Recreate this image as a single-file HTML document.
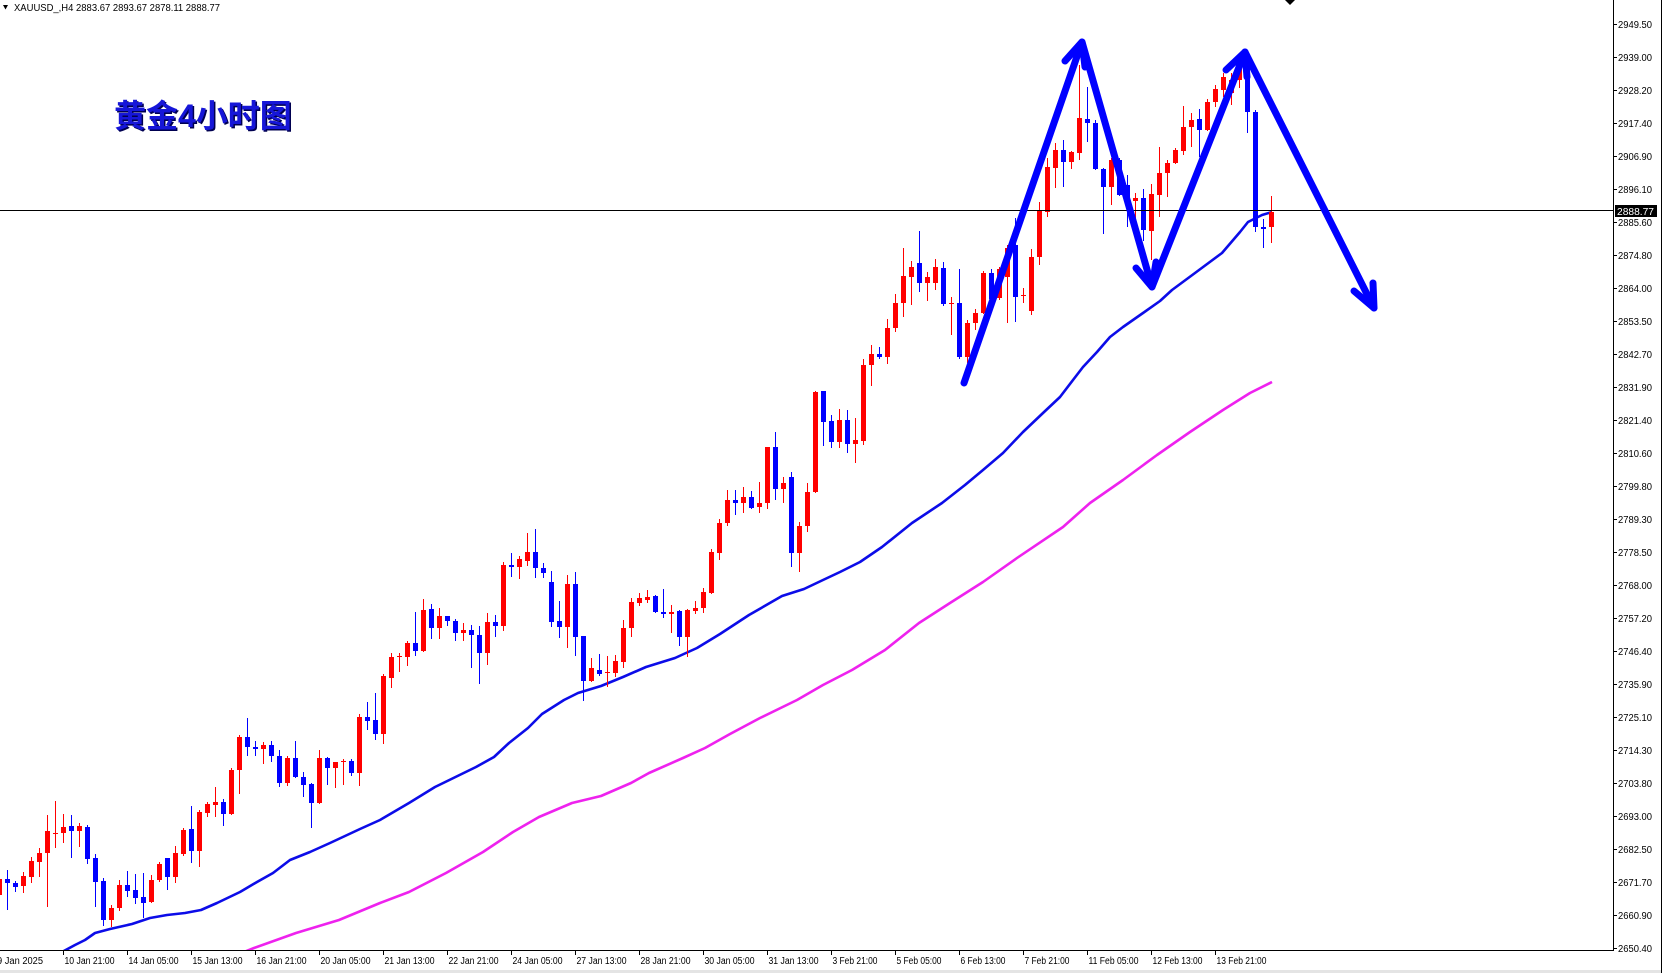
<!DOCTYPE html>
<html><head><meta charset="utf-8">
<style>
html,body{margin:0;padding:0;background:#fff;}
#wrap{position:relative;width:1662px;height:973px;overflow:hidden;background:#fff;}
svg text{font-family:"Liberation Sans","DejaVu Sans",sans-serif;}
</style></head>
<body><div id="wrap">
<svg id="chart" width="1662" height="973" viewBox="0 0 1662 973" style="position:absolute;left:0;top:0">
<defs><clipPath id="cl"><rect x="0" y="0" width="1613" height="950"/></clipPath></defs>
<g clip-path="url(#cl)">
<polyline fill="none" stroke="#ee22ee" stroke-width="2.6" stroke-linejoin="round" points="244,952 254,948 296,933 339,920 380,903 409,892 446,873 483,852 513,832 539,817 572,803 601,796 631,783 649,773 683,758 705,748 730,734 760,718 797,700 823,685 852,670 885,650 919,623 950,603 983,582 1017,558 1063,527 1090,503 1123,480 1157,455 1190,432 1223,410 1250,393 1272,382"/>
<polyline fill="none" stroke="#0c0ce8" stroke-width="2.6" stroke-linejoin="round" points="62,952 75,945 85,940 95,933 110,929 132,924 150,918 167,915 185,913 201,910 217,903 240,892 257,882 273,873 290,860 310,852 330,843 360,829 380,820 409,803 435,787 476,767 494,757 509,743 528,728 542,714 564,700 578,693 601,686 623,677 646,667 675,658 697,648 720,634 749,615 782,596 804,589 823,580 840,572 860,562 882,547 912,523 942,503 965,485 983,470 1003,453 1023,432 1043,413 1060,397 1073,380 1083,367 1097,352 1110,337 1123,327 1143,313 1160,301 1172,290 1195,273 1222,253 1240,232 1248,222 1262,215 1272,212"/>
<path id="redp" fill="#ff0000" shape-rendering="crispEdges" d=""/>
<path id="bluep" fill="#0000ff" shape-rendering="crispEdges" d=""/>
<rect x="0" y="210" width="1613" height="1" fill="#000"/>
<g fill="none" stroke="#0000ff" stroke-width="7" stroke-linecap="round" stroke-linejoin="round">
<polyline points="964,383 1082,42 1152,287 1245,52 1374,308"/>
<polyline points="1065,61 1082,42 1085,67"/>
<polyline points="1136,268 1152,287 1156,262"/>
<polyline points="1226,70 1245,52 1247,77"/>
<polyline points="1354,291 1374,308 1373,283"/>
</g>
</g>
<!-- axes -->
<rect x="1613" y="0" width="1" height="951" fill="#000"/>
<rect x="0" y="950" width="1614" height="1" fill="#000"/>
<rect x="1661" y="0" width="1" height="973" fill="#000"/>
<rect x="0" y="970" width="1661" height="3" fill="#e4e4e4"/>
<g id="pticks" fill="#000"></g>
<g id="plabels" font-size="10" fill="#000"></g>
<rect x="1615" y="205" width="42" height="12" fill="#000"/>
<text x="1617" y="215" font-size="10" fill="#fff" textLength="37" lengthAdjust="spacingAndGlyphs">2888.77</text>
<g id="tticks" fill="#000"></g>
<g id="tlabels" font-size="10" fill="#000"></g>
<!-- header -->
<polygon points="3,5 8,5 5.5,9.5" fill="#000"/>
<text x="14" y="11" font-size="10" fill="#000" textLength="206" lengthAdjust="spacingAndGlyphs">XAUUSD_,H4  2883.67 2893.67 2878.11 2888.77</text>
<polygon points="1285,0 1295,0 1290,5" fill="#000"/>
<!-- title -->
<text x="115.5" y="128.5" font-size="32" font-weight="bold" fill="#000050" style="font-family:'Liberation Sans','Noto Sans CJK SC','WenQuanYi Zen Hei',sans-serif">黄金4小时图</text>
<text x="114" y="127" font-size="32" font-weight="bold" fill="#1616d8" style="font-family:'Liberation Sans','Noto Sans CJK SC','WenQuanYi Zen Hei',sans-serif">黄金4小时图</text>
</svg>
</div>
<script>
(function(){
var D="r,895,879,878,896;b,879,883,870,910;b,883,887,881,892;r,886,876,872,893;r,877,861,857,883;r,862,853,848,877;r,853,831,815,907;r,834,833,801,848;r,833,827,814,843;b,826,831,815,858;r,831,826,823,847;b,827,859,825,864;b,858,882,854,907;b,881,920,878,926;r,920,908,905,927;r,908,885,880,911;b,885,891,871,897;b,890,898,874,904;b,897,903,873,918;r,902,880,875,903;r,880,864,862,882;b,858,877,858,890;r,877,853,846,883;r,854,830,828,856;b,829,851,806,863;r,851,812,810,867;r,813,804,802,817;r,805,802,787,817;b,802,814,799,826;r,814,770,768,815;r,770,737,735,794;b,737,747,718,756;b,747,749,741,756;r,749,745,742,764;b,745,756,741,762;b,756,783,750,787;r,783,758,756,786;b,758,777,741,778;b,777,785,772,797;b,784,803,783,828;r,803,758,750,804;b,758,768,757,785;r,768,762,762,788;r,762,761,759,785;b,761,773,759,776;r,773,717,714,786;b,717,721,702,730;b,720,734,693,740;r,734,676,674,744;r,678,657,653,688;r,657,656,653,672;r,657,643,641,666;b,643,651,612,656;r,651,610,599,652;b,609,628,604,639;r,628,616,608,639;b,616,621,616,626;b,621,633,619,641;r,633,630,623,641;b,630,635,625,668;b,635,653,626,684;r,653,622,613,665;b,622,626,615,637;r,626,565,562,631;b,565,567,553,577;r,567,559,556,579;r,561,552,533,566;b,552,568,529,578;b,568,573,563,578;b,582,622,571,627;b,621,627,601,638;r,627,584,575,648;b,584,637,572,656;b,636,681,636,701;r,681,668,658,682;b,670,674,654,676;r,673,672,656,687;r,673,661,655,677;r,662,628,620,668;r,628,602,598,637;r,603,598,593,606;r,600,597,590,603;b,596,612,595,613;b,612,614,589,618;r,614,612,605,633;b,611,637,610,646;r,637,610,609,657;r,611,608,601,614;r,608,592,588,613;r,593,552,549,594;r,553,523,519,560;r,523,500,490,526;b,500,503,490,515;r,503,497,487,513;b,497,508,491,509;r,507,503,482,513;r,503,447,447,509;b,447,489,432,500;r,489,483,477,503;b,477,553,472,567;r,553,526,522,572;r,526,492,483,532;r,492,392,391,493;b,391,422,391,446;b,421,442,415,448;r,442,420,409,448;b,420,444,410,453;r,444,440,418,463;r,441,365,359,445;r,365,354,345,386;b,354,357,347,359;r,357,328,319,364;r,328,303,294,332;r,303,276,248,317;r,277,267,261,305;b,263,283,231,292;r,283,277,272,301;r,283,267,259,290;b,268,304,262,306;r,304,303,297,335;b,303,357,269,359;r,357,323,320,363;r,323,313,309,330;r,313,273,271,314;b,273,299,269,307;r,298,269,267,300;r,277,248,245,323;b,245,297,218,322;r,296,295,288,303;r,311,257,249,315;r,257,210,202,265;r,212,167,158,217;r,168,150,143,188;b,150,162,140,187;r,162,152,151,169;r,153,118,65,160;b,119,123,87,142;b,123,169,120,170;b,169,187,168,234;r,187,160,158,205;b,160,195,158,196;b,185,200,175,227;r,201,198,193,223;b,198,230,189,241;r,231,194,184,260;r,195,173,147,217;r,173,163,160,197;r,163,150,148,164;r,151,127,106,155;r,127,120,113,147;b,119,130,109,157;r,130,102,99,131;r,102,89,85,107;r,90,77,73,97;r,93,80,73,105;r,80,66,55,88;b,67,112,65,133;b,112,227,110,232;b,227,229,219,248;r,227,212,196,243";
var rows=D.split(";"),rd="",bd="";
for(var i=0;i<rows.length;i++){
 var p=rows[i].split(","),t=p[0],O=+p[1],C=+p[2],H=+p[3],L=+p[4];
 var top=Math.min(O,C),h=Math.max(1,Math.abs(O-C));
 var s="M"+(8*i-1)+" "+H+"h1V"+L+"h-1z"+"M"+(8*i-3)+" "+top+"h5v"+h+"h-5z";
 if(t==="r")rd+=s;else bd+=s;
}
document.getElementById("redp").setAttribute("d",rd);
document.getElementById("bluep").setAttribute("d",bd);
var NS="http://www.w3.org/2000/svg";
function el(n,a,txt){var e=document.createElementNS(NS,n);for(var k in a)e.setAttribute(k,a[k]);if(txt)e.textContent=txt;return e;}
var P=["2949.50","2939.00","2928.20","2917.40","2906.90","2896.10","2885.60","2874.80","2864.00","2853.50","2842.70","2831.90","2821.40","2810.60","2799.80","2789.30","2778.50","2768.00","2757.20","2746.40","2735.90","2725.10","2714.30","2703.80","2693.00","2682.50","2671.70","2660.90","2650.40"];
var pt=document.getElementById("pticks"),pl=document.getElementById("plabels");
for(var k=0;k<P.length;k++){
 var y=24+33*k;
 pt.appendChild(el("rect",{x:1614,y:y,width:3,height:1}));
 pl.appendChild(el("text",{x:1618,y:y+4,textLength:34,lengthAdjust:"spacingAndGlyphs"},P[k]));
}
var T=["10 Jan 21:00","14 Jan 05:00","15 Jan 13:00","16 Jan 21:00","20 Jan 05:00","21 Jan 13:00","22 Jan 21:00","24 Jan 05:00","27 Jan 13:00","28 Jan 21:00","30 Jan 05:00","31 Jan 13:00","3 Feb 21:00","5 Feb 05:00","6 Feb 13:00","7 Feb 21:00","11 Feb 05:00","12 Feb 13:00","13 Feb 21:00"];
var tt=document.getElementById("tticks"),tl=document.getElementById("tlabels");
tl.appendChild(el("text",{x:-3,y:964,textLength:46,lengthAdjust:"spacingAndGlyphs"},"9 Jan 2025"));
tt.appendChild(el("rect",{x:-1,y:951,width:1,height:4}));
for(var j=0;j<T.length;j++){
 var x=63.5+64*j;
 tt.appendChild(el("rect",{x:x-0.5,y:951,width:1,height:4}));
 var w=(T[j].split(" ")[0].length===2)?50:45;
 tl.appendChild(el("text",{x:x+1,y:964,textLength:w,lengthAdjust:"spacingAndGlyphs"},T[j]));
}
})();
</script>
</body></html>
